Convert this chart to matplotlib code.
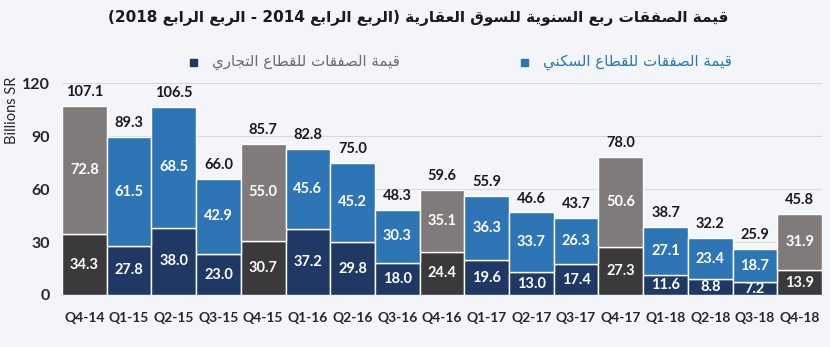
import re
import matplotlib
matplotlib.use("Agg")
import matplotlib.pyplot as plt
from matplotlib.patches import Rectangle

quarters = ["Q4-14", "Q1-15", "Q2-15", "Q3-15", "Q4-15", "Q1-16", "Q2-16", "Q3-16", "Q4-16",
            "Q1-17", "Q2-17", "Q3-17", "Q4-17", "Q1-18", "Q2-18", "Q3-18", "Q4-18"]
commercial = [34.3, 27.8, 38.0, 23.0, 30.7, 37.2, 29.8, 18.0, 24.4, 19.6, 13.0, 17.4, 27.3, 11.6, 8.8, 7.2, 13.9]
residential = [72.8, 61.5, 68.5, 42.9, 55.0, 45.6, 45.2, 30.3, 35.1, 36.3, 33.7, 26.3, 50.6, 27.1, 23.4, 18.7, 31.9]
totals = [107.1, 89.3, 106.5, 66.0, 85.7, 82.8, 75.0, 48.3, 59.6, 55.9, 46.6, 43.7, 78.0, 38.7, 32.2, 25.9, 45.8]

title = "قيمة الصفقات ربع السنوية للسوق العقارية (الربع الرابع 2014 - الربع الرابع 2018)"
label_res = "قيمة الصفقات للقطاع السكني"
label_com = "قيمة الصفقات للقطاع التجاري"

# minimal arabic shaping (presentation forms) + right-to-left ordering
DUAL = {'ئ': 0xFE89, 'ب': 0xFE8F, 'ت': 0xFE95, 'ث': 0xFE99, 'ج': 0xFE9D, 'ح': 0xFEA1, 'خ': 0xFEA5,
        'س': 0xFEB1, 'ش': 0xFEB5, 'ص': 0xFEB9, 'ض': 0xFEBD, 'ط': 0xFEC1, 'ظ': 0xFEC5, 'ع': 0xFEC9,
        'غ': 0xFECD, 'ف': 0xFED1, 'ق': 0xFED5, 'ك': 0xFED9, 'ل': 0xFEDD, 'م': 0xFEE1, 'ن': 0xFEE5,
        'ه': 0xFEE9, 'ي': 0xFEF1}
RIGHT = {'آ': 0xFE81, 'أ': 0xFE83, 'ؤ': 0xFE85, 'إ': 0xFE87, 'ا': 0xFE8D, 'ة': 0xFE93, 'د': 0xFEA9,
         'ذ': 0xFEAB, 'ر': 0xFEAD, 'ز': 0xFEAF, 'و': 0xFEED, 'ى': 0xFEEF}
LAM_ALEF = {'ا': 0xFEFB, 'أ': 0xFEF7, 'إ': 0xFEF9, 'آ': 0xFEF5}


def shape(s):
    out = []
    i = 0
    prev = False
    while i < len(s):
        c = s[i]
        nxt = s[i + 1] if i + 1 < len(s) else ''
        if c == 'ل' and nxt in LAM_ALEF:
            out.append(chr(LAM_ALEF[nxt] + (1 if prev else 0)))
            prev = False
            i += 2
            continue
        if c in DUAL or c in RIGHT:
            base = DUAL.get(c, RIGHT.get(c))
            to_next = c in DUAL and (nxt in DUAL or nxt in RIGHT)
            if prev and to_next:
                form = 3
            elif prev:
                form = 1
            elif to_next:
                form = 2
            else:
                form = 0
            out.append(chr(base + form))
            prev = to_next
        else:
            out.append(c)
            prev = False
        i += 1
    return ''.join(out)


def rtl(s):
    runs = re.findall(r'[0-9A-Za-z.]+|.', shape(s))
    mirror = {'(': ')', ')': '('}
    return ''.join(mirror.get(r, r) for r in reversed(runs))


plt.rcParams['font.family'] = ['Lato', 'DejaVu Sans']

bg = '#f3f5f8'
c_res, c_com = '#2e75b6', '#1f3864'
g_res, g_com = '#7f7b7b', '#3b3939'

fig = plt.figure(figsize=(8.3, 3.47), dpi=100, facecolor=bg)
ax = fig.add_axes([62 / 830, 52 / 347, 760 / 830, 212 / 347])
ax.set_facecolor(bg)

x = list(range(len(quarters)))
is_q4 = [q.startswith("Q4") for q in quarters]
col_com = [g_com if q4 else c_com for q4 in is_q4]
col_res = [g_res if q4 else c_res for q4 in is_q4]

ax.bar(x, commercial, width=1.0, color=col_com, edgecolor='white', linewidth=1, zorder=2)
ax.bar(x, residential, width=1.0, bottom=commercial, color=col_res, edgecolor='white', linewidth=1, zorder=2)

for i in x:
    ax.text(i, commercial[i] / 2, f"{commercial[i]:.1f}", ha='center', va='center',
            color='white', fontsize=10.5, fontweight='bold', zorder=3)
    ax.text(i, commercial[i] + residential[i] / 2, f"{residential[i]:.1f}", ha='center', va='center',
            color='white', fontsize=10.5, fontweight='bold', zorder=3)
    ax.annotate(f"{totals[i]:.1f}", (i, commercial[i] + residential[i]), xytext=(0, 5),
                textcoords='offset points', ha='center', va='bottom', color='#1a1a1a',
                fontsize=10.5, fontweight='bold', annotation_clip=False)

ax.set_xlim(-0.5, len(quarters) - 0.5)
ax.set_ylim(0, 120)
ax.set_yticks([0, 30, 60, 90, 120])
ax.set_xticks(x)
ax.set_xticklabels(quarters)
ax.tick_params(axis='y', length=0, pad=9, labelsize=11.5, labelcolor='#262626')
ax.tick_params(axis='x', length=0, pad=12, labelsize=10, labelcolor='#262626')
for lab in ax.get_xticklabels() + ax.get_yticklabels():
    lab.set_fontweight('bold')
ax.yaxis.grid(True, color='#d9d9d9', linewidth=0.8)
ax.set_axisbelow(True)
for sp in ax.spines.values():
    sp.set_visible(False)

fig.text(12 / 830, 1 - 110 / 347, "Billions SR", rotation=90, ha='center', va='center',
         fontsize=10.5, color='#262626')

fig.text(418 / 830, 1 - 18 / 347, rtl(title), ha='center', va='center', fontsize=11,
         fontweight='bold', color='#1a1a1a', family=['DejaVu Sans'])

# legend
sq = 7
fig.patches.append(Rectangle((521 / 830, 1 - 66 / 347), sq / 830, sq / 347, color=c_res,
                             transform=fig.transFigure, figure=fig))
fig.text(543 / 830, 1 - 62 / 347, rtl(label_res), ha='left', va='center', fontsize=10.8,
         color=c_res, family=['DejaVu Sans'])
fig.patches.append(Rectangle((190 / 830, 1 - 66 / 347), sq / 830, sq / 347, color=c_com,
                             transform=fig.transFigure, figure=fig))
fig.text(212 / 830, 1 - 62 / 347, rtl(label_com), ha='left', va='center', fontsize=10.8,
         color='#6b6b6b', family=['DejaVu Sans'])

fig.savefig("out.png", dpi=100, facecolor=bg)
